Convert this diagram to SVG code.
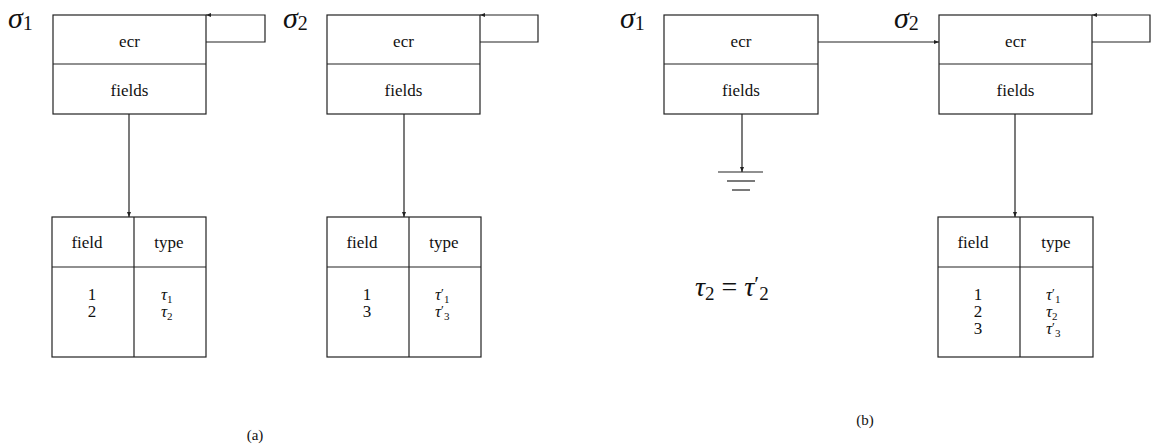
<svg xmlns="http://www.w3.org/2000/svg" width="1153" height="447" viewBox="0 0 1153 447">
<style>
text{font-family:"Times New Roman","Liberation Serif",Tinos,"DejaVu Serif","Noto Serif",Times,serif}
.box{fill:#fff;stroke:#222;stroke-width:1.2}
.ln{fill:none;stroke:#222;stroke-width:1.2}
.t{font-size:17px;fill:#111;text-anchor:middle}
.m{font-style:italic;fill:#111}
.sig{font-style:italic;font-size:30px;fill:#111}
.sub{font-style:normal;font-size:20px}
.cap{font-size:15px;fill:#111;text-anchor:middle}
.s{font-style:normal;font-size:11px}
.p{font-style:normal;font-size:13px}
</style>
<defs>
<marker id="ah" viewBox="0 0 10 10" refX="10" refY="5" markerWidth="5" markerHeight="5" orient="auto" markerUnits="userSpaceOnUse">
<path d="M0,1 L10,5 L0,9 Z" fill="#222"/>
</marker>
</defs>

<g id="sigma1a"><text class="sig" x="8" y="28">σ<tspan class="sub" dy="2">1</tspan></text></g>
<g id="record1a">
<rect class="box" x="53" y="15" width="153" height="99"/>
<line class="ln" x1="53" y1="64" x2="206" y2="64"/>
<text class="t" x="129.5" y="47">ecr</text>
<text class="t" x="129.5" y="96">fields</text>
</g>
<g id="table1a">
<rect class="box" x="52" y="217" width="154" height="140"/>
<line class="ln" x1="52" y1="267" x2="206" y2="267"/>
<line class="ln" x1="134" y1="217" x2="134" y2="357"/>
<text class="t" x="87" y="248">field</text>
<text class="t" x="169" y="248">type</text>
<text class="t" x="92" y="300">1</text>
<text class="t" x="92" y="317">2</text>
<text class="m" font-size="17" x="161" y="300">τ<tspan class="s" dy="3">1</tspan></text>
<text class="m" font-size="17" x="161" y="317">τ<tspan class="s" dy="3">2</tspan></text>
</g>

<g id="sigma2a"><text class="sig" x="283" y="28">σ<tspan class="sub" dy="2">2</tspan></text></g>
<g id="record2a">
<rect class="box" x="327" y="15" width="153" height="99"/>
<line class="ln" x1="327" y1="64" x2="480" y2="64"/>
<text class="t" x="403.5" y="47">ecr</text>
<text class="t" x="403.5" y="96">fields</text>
</g>
<g id="table2a">
<rect class="box" x="327" y="217" width="154" height="140"/>
<line class="ln" x1="327" y1="267" x2="481" y2="267"/>
<line class="ln" x1="409" y1="217" x2="409" y2="357"/>
<text class="t" x="362" y="248">field</text>
<text class="t" x="444" y="248">type</text>
<text class="t" x="367" y="300">1</text>
<text class="t" x="367" y="317">3</text>
<text class="m" font-size="17" x="435" y="300">τ<tspan class="p" dy="-3">′</tspan><tspan class="s" dy="6">1</tspan></text>
<text class="m" font-size="17" x="435" y="317">τ<tspan class="p" dy="-3">′</tspan><tspan class="s" dy="6">3</tspan></text>
</g>

<g id="caption-a"><text class="cap" x="255" y="440">(a)</text></g>

<g id="sigma1b"><text class="sig" x="620" y="28">σ<tspan class="sub" dy="2">1</tspan></text></g>
<g id="record1b">
<rect class="box" x="664" y="15" width="154" height="99"/>
<line class="ln" x1="664" y1="64" x2="818" y2="64"/>
<text class="t" x="741" y="47">ecr</text>
<text class="t" x="741" y="96">fields</text>
</g>
<g id="ground">
<line class="ln" x1="718" y1="172" x2="763" y2="172"/>
<line class="ln" x1="727" y1="181" x2="755" y2="181"/>
<line class="ln" x1="732" y1="190" x2="750" y2="190"/>
</g>
<g id="equation"><text class="m" font-size="28" x="695" y="296">τ<tspan font-style="normal" font-size="19" dy="4">2</tspan><tspan font-style="normal" dy="-4"> = </tspan>τ<tspan font-style="normal" font-size="22" dy="-5">′</tspan><tspan font-style="normal" font-size="19" dy="9">2</tspan></text></g>

<g id="sigma2b"><text class="sig" x="894" y="28">σ<tspan class="sub" dy="2">2</tspan></text></g>
<g id="record2b">
<rect class="box" x="939" y="15" width="153" height="99"/>
<line class="ln" x1="939" y1="64" x2="1092" y2="64"/>
<text class="t" x="1015.5" y="47">ecr</text>
<text class="t" x="1015.5" y="96">fields</text>
</g>
<g id="table2b">
<rect class="box" x="938" y="217" width="155" height="140"/>
<line class="ln" x1="938" y1="267" x2="1093" y2="267"/>
<line class="ln" x1="1020" y1="217" x2="1020" y2="357"/>
<text class="t" x="973" y="248">field</text>
<text class="t" x="1056" y="248">type</text>
<text class="t" x="978" y="300">1</text>
<text class="t" x="978" y="317">2</text>
<text class="t" x="978" y="334">3</text>
<text class="m" font-size="17" x="1046" y="300">τ<tspan class="p" dy="-3">′</tspan><tspan class="s" dy="6">1</tspan></text>
<text class="m" font-size="17" x="1046" y="317">τ<tspan class="s" dy="3">2</tspan></text>
<text class="m" font-size="17" x="1046" y="334">τ<tspan class="p" dy="-3">′</tspan><tspan class="s" dy="6">3</tspan></text>
</g>

<g id="caption-b"><text class="cap" x="865" y="425">(b)</text></g>

<g id="connectors">
<path class="ln" d="M206,42 H265 V15 H206" marker-end="url(#ah)"/>
<path class="ln" d="M129,114 V217" marker-end="url(#ah)"/>
<path class="ln" d="M480,42 H538 V15 H480" marker-end="url(#ah)"/>
<path class="ln" d="M404,114 V217" marker-end="url(#ah)"/>
<path class="ln" d="M818,42 H939" marker-end="url(#ah)"/>
<path class="ln" d="M742,114 V172" marker-end="url(#ah)"/>
<path class="ln" d="M1092,42 H1150 V15 H1092" marker-end="url(#ah)"/>
<path class="ln" d="M1015,114 V217" marker-end="url(#ah)"/>
</g>
</svg>
